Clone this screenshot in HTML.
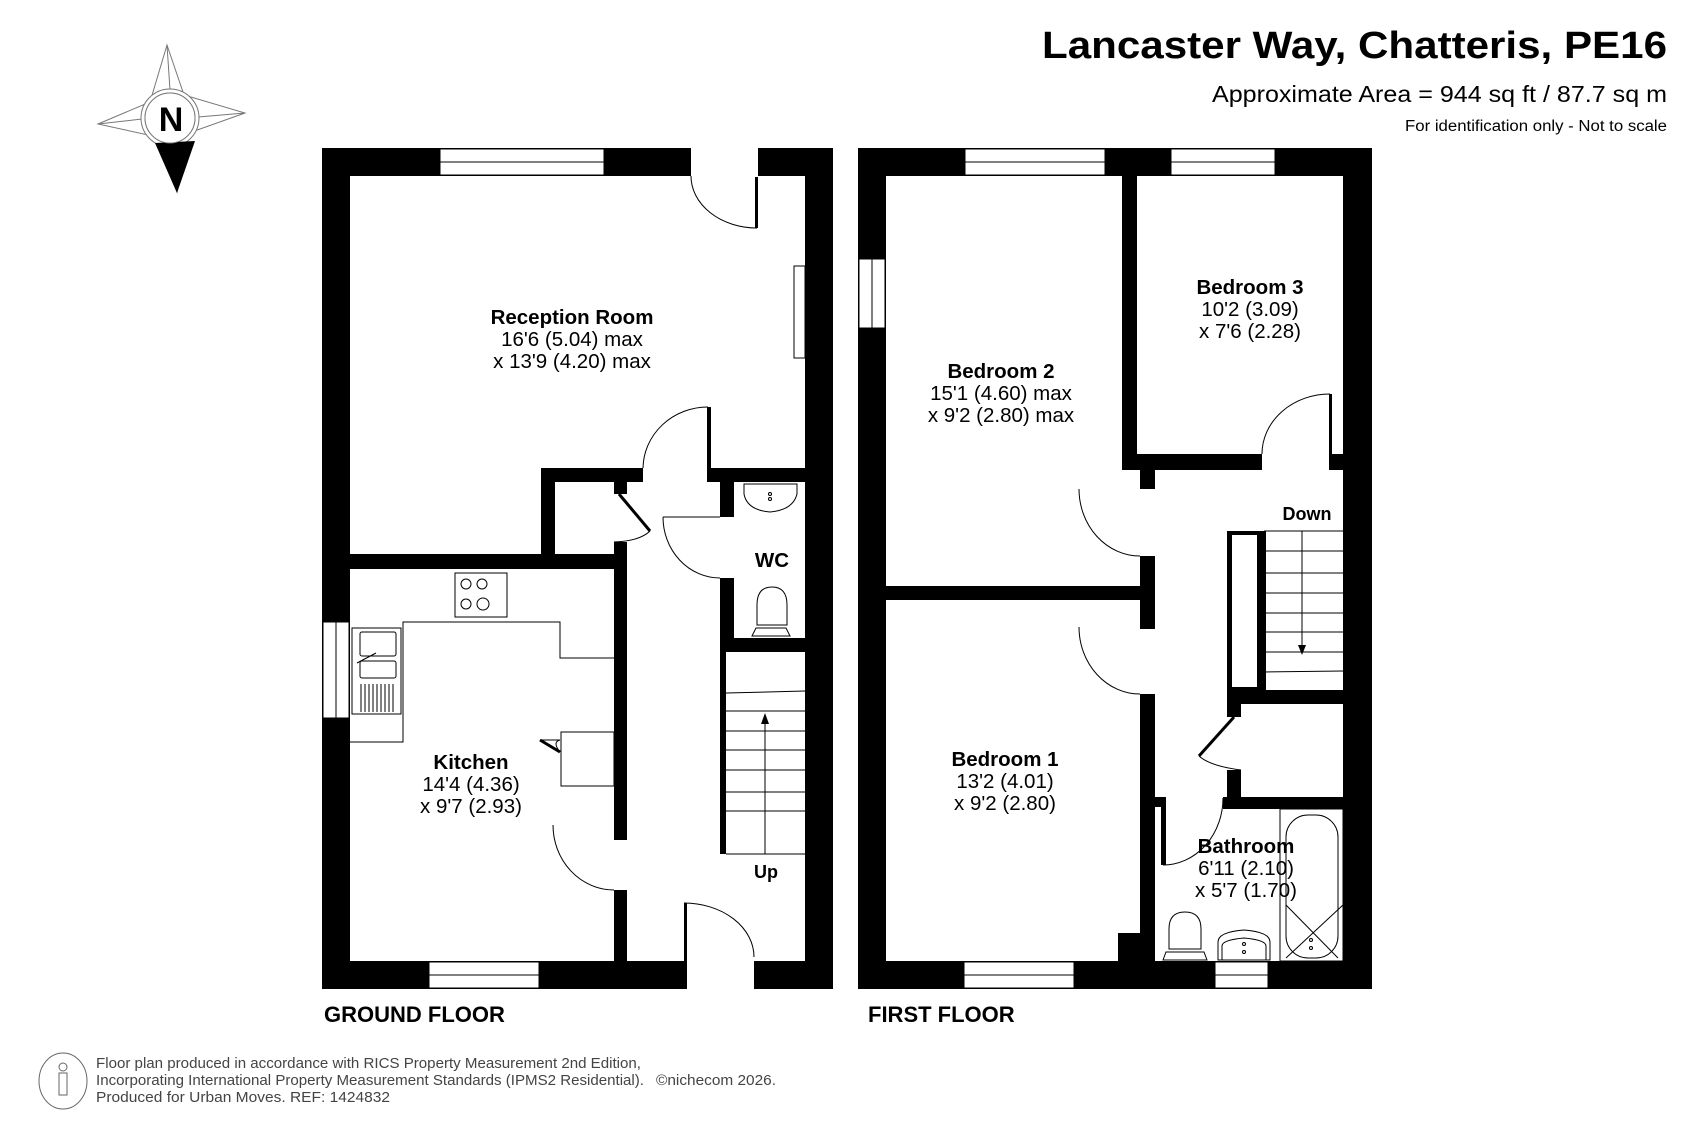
<!DOCTYPE html>
<html><head><meta charset="utf-8"><style>html,body{margin:0;padding:0;background:#fff}svg{display:block}</style></head>
<body>
<svg width="1689" height="1124" viewBox="0 0 1689 1124" xmlns="http://www.w3.org/2000/svg" font-family="Liberation Sans, Arial, sans-serif">
<rect width="1689" height="1124" fill="#fff"/>
<!-- Title -->
<text x="1667" y="58" text-anchor="end" font-size="38" font-weight="bold" textLength="625" lengthAdjust="spacingAndGlyphs">Lancaster Way, Chatteris, PE16</text>
<text x="1667" y="102" text-anchor="end" font-size="23" textLength="455" lengthAdjust="spacingAndGlyphs">Approximate Area = 944 sq ft / 87.7 sq m</text>
<text x="1667" y="131" text-anchor="end" font-size="15.5" textLength="262" lengthAdjust="spacingAndGlyphs">For identification only - Not to scale</text>

<!-- Compass -->
<g stroke="#777" stroke-width="1" fill="none">
<polygon points="167,45 184,95 245,113 186,134 177,192 153,136 98,124 150,102" fill="#fff"/>
<line x1="167" y1="45" x2="170" y2="90"/><line x1="245" y1="113" x2="198" y2="117"/><line x1="98" y1="124" x2="142" y2="119"/>
<circle cx="170" cy="118" r="29" fill="#fff"/><circle cx="170" cy="118" r="25"/>
</g>
<polygon points="155,143 195,141 177,193" fill="#000"/>
<circle cx="170" cy="118" r="25" fill="#fff" stroke="#777" stroke-width="1"/>
<text x="171" y="131" text-anchor="middle" font-size="34" font-weight="bold">N</text>

<!-- ===== GROUND FLOOR ===== -->
<g fill="#000">
<rect x="322" y="148" width="511" height="28"/>
<rect x="322" y="961" width="511" height="28"/>
<rect x="322" y="148" width="28" height="841"/>
<rect x="805" y="148" width="28" height="841"/>
<rect x="350" y="554" width="277" height="15"/>
<rect x="541" y="468" width="14" height="90"/>
<rect x="541" y="468" width="102" height="14"/>
<rect x="614" y="482" width="13" height="12"/>
<rect x="614" y="542" width="13" height="298"/>
<rect x="614" y="890" width="13" height="75"/>
<rect x="707" y="407" width="4" height="62"/>
<rect x="707" y="468" width="100" height="14"/>
<rect x="720" y="482" width="14" height="35"/>
<rect x="720" y="578" width="14" height="74"/>
<rect x="720" y="638" width="87" height="14"/>
<rect x="755" y="176" width="3" height="52"/>
<rect x="684" y="903" width="3" height="60"/>
</g>
<g fill="#fff">
<rect x="440" y="149" width="164" height="26"/>
<rect x="691" y="147" width="67" height="30"/>
<rect x="794" y="266" width="10" height="92"/>
<rect x="429" y="962" width="110" height="26"/>
<rect x="687" y="960" width="67" height="30"/>
<rect x="323" y="622" width="26" height="96"/>
<rect x="613" y="840" width="15" height="50"/>
<rect x="719" y="517" width="16" height="61"/>
</g>
<g fill="none" stroke="#000" stroke-width="1">
<line x1="440" y1="162" x2="604" y2="162"/><rect x="440" y="149" width="164" height="26"/>
<rect x="429" y="962" width="110" height="26"/><line x1="429" y1="975" x2="539" y2="975"/>
<rect x="323" y="622" width="26" height="96"/><line x1="336" y1="622" x2="336" y2="718"/>
<rect x="794" y="266" width="11" height="92"/>
<path d="M691,176 A66,52 0 0 0 757,228"/>
<path d="M684,903 A70,54 0 0 1 754,957"/>
<path d="M643,468 A65,62 0 0 1 708,407"/>
<path d="M663,517 A57,61 0 0 0 720,578"/>
<path d="M553,825 A61,65 0 0 0 614,890"/>
<line x1="663" y1="517" x2="720" y2="517"/>
<path d="M619,494 L650,531" stroke-width="3"/>
<path d="M650,531 Q640,541 614,542"/>
<polyline points="350,742 403,742 403,622 560,622 560,658 614,658"/>
<rect x="455" y="573" width="52" height="44"/>
<circle cx="466" cy="584" r="5"/><circle cx="482" cy="584" r="5"/><circle cx="466" cy="604" r="5"/><circle cx="483" cy="604" r="6"/>
<rect x="352" y="628" width="49" height="86"/>
<rect x="360" y="632" width="36" height="24" rx="2"/><rect x="360" y="661" width="36" height="17" rx="2"/>
<line x1="357" y1="663" x2="376" y2="653"/>
<path d="M361,684 v28 M365,684 v28 M369,684 v28 M373,684 v28 M377,684 v28 M381,684 v28 M385,684 v28 M389,684 v28 M393,684 v28"/>
<rect x="561" y="732" width="53" height="54"/>
<path d="M540,740 L560,752" stroke-width="3"/><path d="M560,752 Q552,742 560,740 L540,740"/>
<path d="M744,484 h53 v10 q-4,16 -27,18 q-23,-2 -26,-18 z"/>
<circle cx="770" cy="494" r="1.5"/><circle cx="770" cy="499" r="1.5"/>
<path d="M757,625 v-20 q0,-18 15,-18 q15,0 15,18 v20 z"/><path d="M752,636 l4,-8 h30 l4,8 z"/>
<line x1="726" y1="693" x2="805" y2="691"/>
<path d="M726,711 h79 M726,731 h79 M726,750 h79 M726,770 h79 M726,792 h79 M726,811 h79 M726,854 h79"/>
<line x1="765" y1="854" x2="765" y2="718"/>
</g>
<rect x="720" y="652" width="6" height="202" fill="#000"/>
<polygon points="765,713 761,724 769,724" fill="#000"/>

<!-- ===== FIRST FLOOR ===== -->
<g fill="#000">
<rect x="858" y="148" width="514" height="28"/>
<rect x="858" y="961" width="514" height="28"/>
<rect x="858" y="148" width="28" height="841"/>
<rect x="1343" y="148" width="29" height="841"/>
<rect x="1122" y="176" width="15" height="294"/>
<rect x="1137" y="454" width="125" height="16"/>
<rect x="1329" y="394" width="3" height="60"/>
<rect x="1329" y="454" width="14" height="16"/>
<rect x="1140" y="470" width="15" height="19"/>
<rect x="1140" y="556" width="15" height="73"/>
<rect x="886" y="586" width="254" height="14"/>
<rect x="1140" y="694" width="15" height="267"/>
<rect x="1118" y="933" width="30" height="30"/>
<rect x="1227" y="531" width="37" height="160"/>
<rect x="1227" y="690" width="116" height="14"/>
<rect x="1227" y="704" width="14" height="13"/>
<rect x="1227" y="770" width="14" height="28"/>
<rect x="1223" y="797" width="120" height="12"/>
<rect x="1155" y="797" width="6" height="10"/>
<rect x="1161" y="797" width="5" height="68"/>
</g>
<g fill="#fff">
<rect x="965" y="149" width="140" height="26"/>
<rect x="1171" y="149" width="104" height="26"/>
<rect x="859" y="259" width="26" height="69"/>
<rect x="964" y="962" width="110" height="26"/>
<rect x="1215" y="962" width="53" height="26"/>
<rect x="1232" y="535" width="25" height="152"/>
</g>
<g fill="none" stroke="#000" stroke-width="1">
<rect x="965" y="149" width="140" height="26"/><line x1="965" y1="162" x2="1105" y2="162"/>
<rect x="1171" y="149" width="104" height="26"/><line x1="1171" y1="162" x2="1275" y2="162"/>
<rect x="859" y="259" width="26" height="69"/><line x1="872" y1="259" x2="872" y2="328"/>
<rect x="964" y="962" width="110" height="26"/><line x1="964" y1="975" x2="1074" y2="975"/>
<rect x="1215" y="962" width="53" height="26"/><line x1="1215" y1="975" x2="1268" y2="975"/>
<path d="M1262,454 A68,60 0 0 1 1330,394"/>
<path d="M1079,489 A61,67 0 0 0 1140,556"/>
<path d="M1079,627 A61,67 0 0 0 1140,694"/>
<path d="M1163,865 A60,67 0 0 0 1223,798"/>
<path d="M1199,756 Q1210,766 1241,770"/>
<path d="M1234,717 L1199,756" stroke-width="3"/>
<path d="M1264,531 h79 M1264,551 h79 M1264,573 h79 M1264,593 h79 M1264,613 h79 M1264,632 h79 M1264,652 h79"/>
<line x1="1264" y1="672" x2="1343" y2="671"/>
<line x1="1302" y1="531" x2="1302" y2="650"/>
<rect x="1280" y="809" width="63" height="152"/>
<rect x="1286" y="815" width="52" height="143" rx="22"/>
<line x1="1286" y1="958" x2="1343" y2="905"/><line x1="1286" y1="905" x2="1338" y2="958"/>
<circle cx="1311" cy="940" r="1.5"/><circle cx="1311" cy="948" r="1.5"/>
<path d="M1218,960 v-18 q0,-10 26,-12 q26,2 26,12 v18 z"/>
<path d="M1222,960 v-14 q0,-6 22,-8 q22,2 22,8 v14"/>
<circle cx="1244" cy="944" r="1.5"/><circle cx="1244" cy="952" r="1.5"/>
<path d="M1169,949 v-20 q0,-17 16,-17 q16,0 16,17 v20 z"/><path d="M1163,960 l3,-8 h38 l3,8 z"/>
</g>
<rect x="1264" y="531" width="2" height="160" fill="#000"/>
<polygon points="1302,655 1298,645 1306,645" fill="#000"/>

<!-- room labels -->
<g font-size="20.5" text-anchor="middle">
<text x="572" y="324" font-weight="bold">Reception Room</text>
<text x="572" y="346">16'6 (5.04) max</text>
<text x="572" y="368">x 13'9 (4.20) max</text>
<text x="471" y="769" font-weight="bold">Kitchen</text>
<text x="471" y="791">14'4 (4.36)</text>
<text x="471" y="813">x 9'7 (2.93)</text>
<text x="772" y="567" font-weight="bold">WC</text>
<text x="766" y="878" font-weight="bold" font-size="18">Up</text>
<text x="1001" y="378" font-weight="bold">Bedroom 2</text>
<text x="1001" y="400">15'1 (4.60) max</text>
<text x="1001" y="422">x 9'2 (2.80) max</text>
<text x="1250" y="294" font-weight="bold">Bedroom 3</text>
<text x="1250" y="316">10'2 (3.09)</text>
<text x="1250" y="338">x 7'6 (2.28)</text>
<text x="1005" y="766" font-weight="bold">Bedroom 1</text>
<text x="1005" y="788">13'2 (4.01)</text>
<text x="1005" y="810">x 9'2 (2.80)</text>
<text x="1246" y="853" font-weight="bold">Bathroom</text>
<text x="1246" y="875">6'11 (2.10)</text>
<text x="1246" y="897">x 5'7 (1.70)</text>
<text x="1307" y="520" font-weight="bold" font-size="18">Down</text>
</g>
<text x="324" y="1022" font-size="22" font-weight="bold">GROUND FLOOR</text>
<text x="868" y="1022" font-size="22" font-weight="bold">FIRST FLOOR</text>

<!-- footer -->
<ellipse cx="63" cy="1081" rx="24" ry="28" fill="none" stroke="#666" stroke-width="1"/>
<circle cx="63" cy="1067" r="4" fill="none" stroke="#666"/>
<rect x="59" y="1073" width="8" height="22" fill="none" stroke="#666"/>
<g font-size="14.5" fill="#444">
<text x="96" y="1068" textLength="545" lengthAdjust="spacingAndGlyphs">Floor plan produced in accordance with RICS Property Measurement 2nd Edition,</text>
<text x="96" y="1085" textLength="548" lengthAdjust="spacingAndGlyphs">Incorporating International Property Measurement Standards (IPMS2 Residential).</text>
<text x="656" y="1085" textLength="120" lengthAdjust="spacingAndGlyphs">©nichecom 2026.</text>
<text x="96" y="1102" textLength="294" lengthAdjust="spacingAndGlyphs">Produced for Urban Moves.   REF: 1424832</text>
</g>
</svg>
</body></html>
